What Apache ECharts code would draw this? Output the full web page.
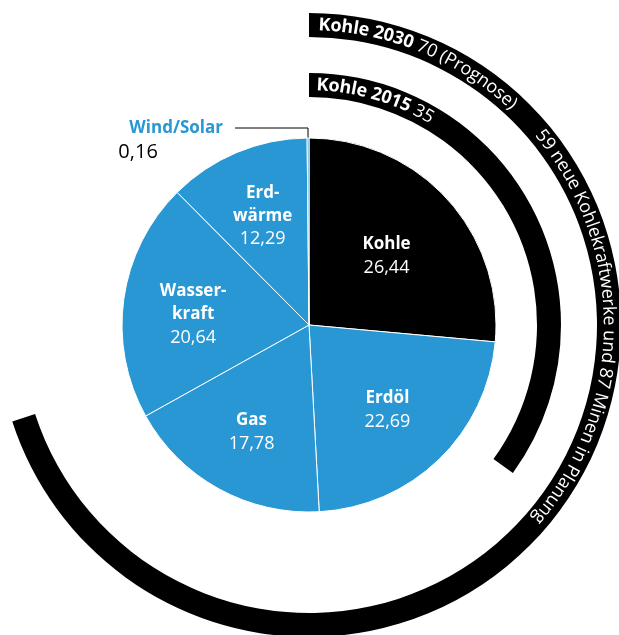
<!DOCTYPE html>
<html>
<head>
<meta charset="utf-8">
<script src="https://cdn.jsdelivr.net/npm/echarts@6/dist/echarts.min.js"></script>
<style>
  html, body { margin: 0; padding: 0; background: #fff; }
  #chart { width: 619px; height: 635px; }
</style>
</head>
<body>
<div id="chart"></div>
<script>
// Stromerzeugung nach Quelle (Anteile in %)
const categories = ['Kohle', 'Erdöl', 'Gas', 'Wasser-\nkraft', 'Erd-\nwärme', 'Wind/Solar'];
const shares = [26.44, 22.69, 17.78, 20.64, 12.29, 0.16];

// Kohle-Anteil als Ring (2015 / 2030 Prognose)
const ringYears = ['2015', '2030'];
const ringShares = [35, 70];
const ringNotes = ['', '(Prognose)'];
const ringExtra = ['', '59 neue Kohlekraftwerke und 87 Minen in Planung'];

// Layout
const CX = 309, CY = 325;
const PIE_R = 187;
const RING_R = [[228, 252], [288, 312]];
const LABEL_R = [105, 113, 119, 117, 120]; // Abstand der Innenbeschriftung vom Mittelpunkt
const LABEL_DY = [2, 4, 3, 6, 2];          // kleine vertikale Korrektur
const FONT = '"Open Sans", sans-serif';
const BLUE = '#2897d3';

const fmt = v => v.toFixed(2).replace('.', ',');

// Mittelwinkel jedes Segments (im Uhrzeigersinn ab 12 Uhr, Bogenmaß)
const total = shares.reduce((s, v) => s + v, 0);
const midAngles = [];
shares.reduce((acc, v) => {
  midAngles.push((acc + v / 2) / total * 2 * Math.PI);
  return acc + v;
}, 0);

// Text entlang eines Kreisbogens (je Zeichen ein gedrehtes Textelement)
const measureCtx = document.createElement('canvas').getContext('2d');
function arcText(parts, r, startDeg) {
  const els = [];
  let a = startDeg * Math.PI / 180;
  parts.forEach(p => {
    const font = `${p.weight || 'normal'} ${p.size}px ${FONT}`;
    measureCtx.font = font;
    for (const ch of p.text) {
      const w = measureCtx.measureText(ch).width;
      const mid = a + (w / 2) / r;
      els.push({
        type: 'text',
        x: CX + r * Math.sin(mid),
        y: CY - r * Math.cos(mid),
        rotation: -mid,
        silent: true,
        z: 100,
        style: {
          text: ch, font: font, fill: '#fff',
          align: 'center', verticalAlign: 'middle',
          textAlign: 'center', textVerticalAlign: 'middle'
        }
      });
      a += w / r;
    }
  });
  return els;
}

const ringMid = i => (RING_R[i][0] + RING_R[i][1]) / 2;
let graphics = [];
ringYears.forEach((y, i) => {
  const main = [
    { text: 'Kohle ' + y, weight: 'bold', size: 18 },
    { text: ' ' + ringShares[i] + (ringNotes[i] ? ' ' + ringNotes[i] : ''), size: 18 }
  ];
  graphics = graphics.concat(arcText(main, ringMid(i), 1.8));
  if (ringExtra[i]) {
    graphics = graphics.concat(arcText([{ text: ringExtra[i], size: 18 }], ringMid(i), 50));
  }
});

const pieData = categories.map((c, i) => {
  const item = {
    name: c,
    value: shares[i],
    itemStyle: { color: i === 0 ? '#000' : BLUE }
  };
  if (c === 'Wind/Solar') {
    item.label = {
      position: 'outside',
      padding: [24, 0, 0, 0],
      distanceToLabelLine: 12,
      formatter: p => '{n|' + p.name + '}\n{v|' + fmt(p.value) + '}',
      rich: {
        n: { fontFamily: FONT, fontWeight: 'bold', fontSize: 17, color: BLUE, lineHeight: 24, align: 'left', padding: [0, 0, 0, 11] },
        v: { fontFamily: FONT, fontSize: 20, color: '#000', lineHeight: 24, align: 'left' }
      }
    };
    item.labelLine = { show: true, length: 10, length2: 73, lineStyle: { color: '#000', width: 1 } };
  }
  return item;
});

const chart = echarts.init(document.getElementById('chart'));
chart.setOption({
  animation: false,
  backgroundColor: '#fff',
  graphic: graphics,
  series: [
    // Ringe Kohle 2015 / 2030
    ...ringShares.map((v, i) => ({
      type: 'pie',
      center: [CX, CY],
      radius: RING_R[i],
      startAngle: 90,
      clockwise: true,
      silent: true,
      z: 1,
      label: { show: false },
      labelLine: { show: false },
      data: [
        { value: v, name: 'Kohle ' + ringYears[i], itemStyle: { color: '#000' } },
        { value: 100 - v, name: 'Rest', itemStyle: { color: 'rgba(0,0,0,0)' } }
      ]
    })),
    // Hauptkreis
    {
      type: 'pie',
      center: [CX, CY],
      radius: [0, PIE_R],
      startAngle: 90,
      clockwise: true,
      silent: true,
      avoidLabelOverlap: false,
      z: 2,
      itemStyle: { borderColor: '#fff', borderWidth: 1 },
      label: {
        position: 'inside',
        formatter: p => p.name.split('\n').map(s => '{n|' + s + '}').join('\n') + '\n{v|' + fmt(p.value) + '}',
        rich: {
          n: { fontFamily: FONT, fontWeight: 'bold', fontSize: 17, color: '#fff', lineHeight: 23 },
          v: { fontFamily: FONT, fontSize: 18, color: '#fff', lineHeight: 24 }
        }
      },
      labelLine: { show: false },
      // Innenbeschriftung auf Radius LABEL_R entlang der Segmentmitte
      labelLayout: p => {
        const r = LABEL_R[p.dataIndex];
        if (r == null) return {};
        const a = midAngles[p.dataIndex];
        return {
          x: CX + r * Math.sin(a),
          y: CY - r * Math.cos(a) + LABEL_DY[p.dataIndex],
          align: 'center',
          verticalAlign: 'middle'
        };
      },
      data: pieData
    }
  ]
});
</script>
</body>
</html>
